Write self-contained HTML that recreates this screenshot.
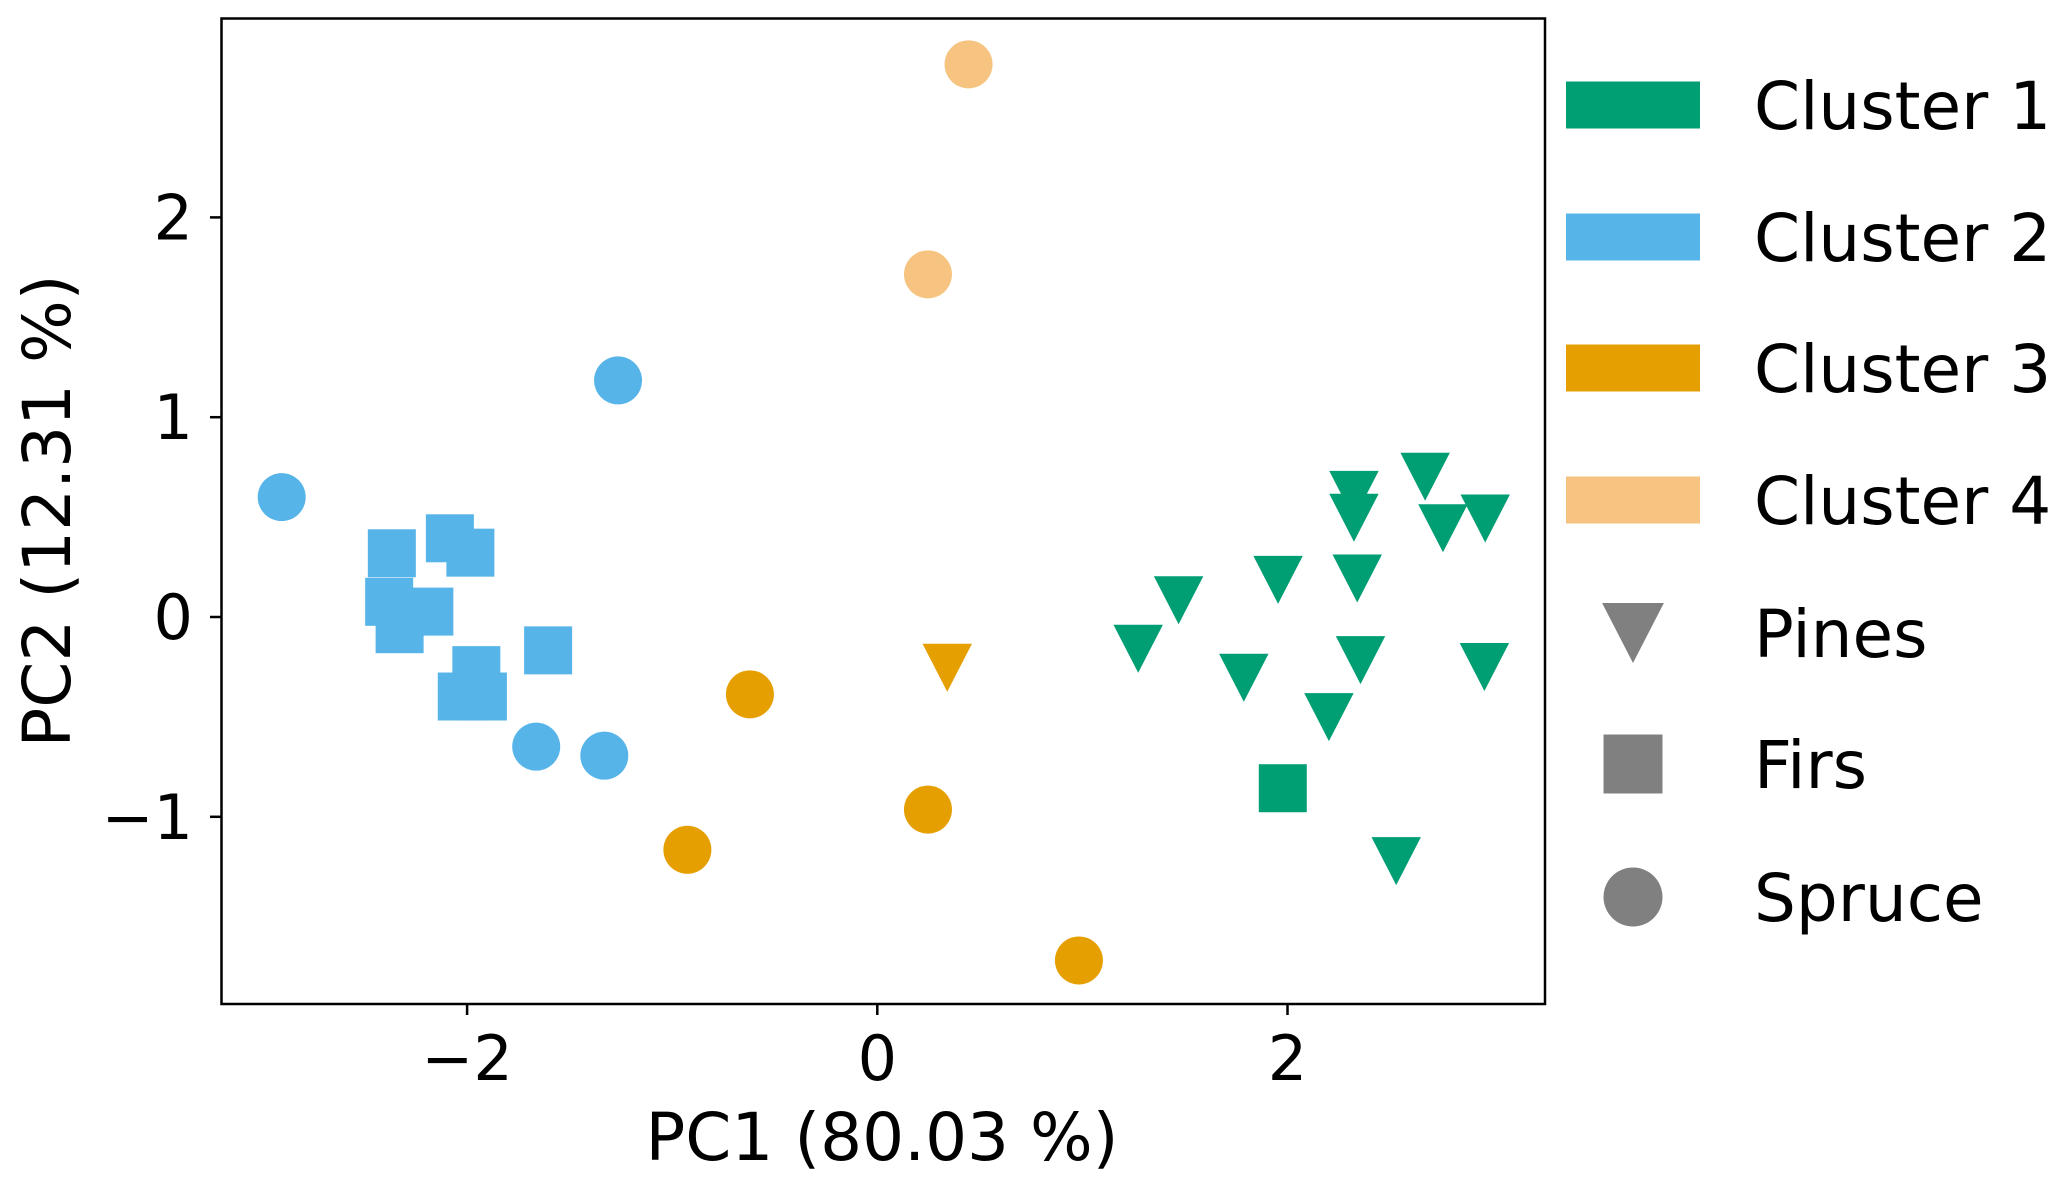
<!DOCTYPE html>
<html><head><meta charset="utf-8">
<style>
html,body{margin:0;padding:0;background:#fff;}
svg{display:block;font-family:"DejaVu Sans","Liberation Sans",sans-serif;}
</style></head>
<body>
<svg id="chart" width="2067" height="1189" viewBox="0 0 2067 1189" xmlns="http://www.w3.org/2000/svg">
  <rect x="0" y="0" width="2067" height="1189" fill="#fff"/>
  <g id="marks"></g>
  <rect x="221.5" y="18.5" width="1323.5" height="985.5" fill="none" stroke="#000" stroke-width="2.5"/>
  <g id="xaxis"></g>
  <g id="yaxis"></g>
  <text x="882" y="1160" font-size="66" text-anchor="middle" fill="#000">PC1 (80.03 %)</text>
  <text transform="translate(70,511) rotate(-90)" font-size="66" text-anchor="middle" fill="#000">PC2 (12.31 %)</text>
  <g id="legend"></g>
</svg>
<script>
const clusterColors = ["#009E73", "#56B4E9", "#E69F00", "#F6C480"];
const clusterNames = ["Cluster 1", "Cluster 2", "Cluster 3", "Cluster 4"];
const speciesNames = ["Pines", "Firs", "Spruce"];
const speciesShapes = ["tri", "sq", "circ"];
const xTicks = [-2, 0, 2];
const yTicks = [-1, 0, 1, 2];
const pointsX = [
  0.445, 0.247,
  -1.264, -2.904, -1.663, -1.331,
  -2.367, -2.084, -1.984, -2.380, -2.184, -2.329, -1.955, -2.026, -1.923, -1.605,
  -0.621, -0.926, 0.247, 0.983, 0.341,
  2.324, 2.324, 2.671, 2.758, 2.964, 1.954, 2.340, 1.469, 1.272, 1.787, 2.356, 2.960, 2.202, 2.530,
  1.977
];
const pointsY = [
  2.766, 1.715,
  1.184, 0.600, -0.649, -0.694,
  0.319, 0.394, 0.322, 0.076, 0.027, -0.061, -0.266, -0.398, -0.398, -0.167,
  -0.387, -1.165, -0.964, -1.719, -0.254,
  0.611, 0.497, 0.702, 0.444, 0.493, 0.186, 0.193, 0.084, -0.159, -0.304, -0.216, -0.250, -0.501, -1.222,
  -0.857
];
const pointsCluster = [
  3, 3,
  1, 1, 1, 1,
  1, 1, 1, 1, 1, 1, 1, 1, 1, 1,
  2, 2, 2, 2, 2,
  0, 0, 0, 0, 0, 0, 0, 0, 0, 0, 0, 0, 0, 0,
  0
];
const pointsSpecies = [
  2, 2,
  2, 2, 2, 2,
  1, 1, 1, 1, 1, 1, 1, 1, 1, 1,
  2, 2, 2, 2, 0,
  0, 0, 0, 0, 0, 0, 0, 0, 0, 0, 0, 0, 0, 0,
  1
];

const NS = "http://www.w3.org/2000/svg";
const X0 = 877.3, XS = 205.1, Y0 = 617, YS = 199.8;
function xScale(v){ return X0 + v * XS; }
function yScale(v){ return Y0 - v * YS; }

function makeMarker(shape, cx, cy, color, size){
  let el;
  const h = size / 2;
  if (shape === "circ") {
    el = document.createElementNS(NS, "circle");
    el.setAttribute("cx", cx); el.setAttribute("cy", cy); el.setAttribute("r", h);
  } else if (shape === "sq") {
    el = document.createElementNS(NS, "rect");
    el.setAttribute("x", cx - h); el.setAttribute("y", cy - h);
    el.setAttribute("width", size); el.setAttribute("height", size);
  } else {
    el = document.createElementNS(NS, "polygon");
    el.setAttribute("points", (cx - h*1.03) + "," + (cy - h) + " " + (cx + h*1.03) + "," + (cy - h) + " " + cx + "," + (cy + h));
  }
  el.setAttribute("fill", color);
  return el;
}

const marks = document.getElementById("marks");
for (let i = 0; i < pointsX.length; i++) {
  const el = makeMarker(speciesShapes[pointsSpecies[i]], xScale(pointsX[i]), yScale(pointsY[i]), clusterColors[pointsCluster[i]], 48);
  
  
  marks.appendChild(el);
}

const xaxis = document.getElementById("xaxis");
xTicks.forEach(function(t){
  const x = xScale(t);
  const ln = document.createElementNS(NS, "line");
  ln.setAttribute("x1", x); ln.setAttribute("x2", x); ln.setAttribute("y1", 1004); ln.setAttribute("y2", 1015);
  ln.setAttribute("stroke", "#000"); ln.setAttribute("stroke-width", "2.5");
  
  
  xaxis.appendChild(ln);
  const tx = document.createElementNS(NS, "text");
  tx.setAttribute("x", x); tx.setAttribute("y", 1080); tx.setAttribute("font-size", "62");
  tx.setAttribute("text-anchor", "middle");
  tx.textContent = t < 0 ? "\u2212" + Math.abs(t) : String(t);
  
  
  xaxis.appendChild(tx);
});
const yaxis = document.getElementById("yaxis");
yTicks.forEach(function(t){
  const y = yScale(t);
  const ln = document.createElementNS(NS, "line");
  ln.setAttribute("x1", 210); ln.setAttribute("x2", 221.5); ln.setAttribute("y1", y); ln.setAttribute("y2", y);
  ln.setAttribute("stroke", "#000"); ln.setAttribute("stroke-width", "2.5");
  
  
  yaxis.appendChild(ln);
  const tx = document.createElementNS(NS, "text");
  tx.setAttribute("x", 193); tx.setAttribute("y", y + 22); tx.setAttribute("font-size", "62");
  tx.setAttribute("text-anchor", "end");
  tx.textContent = t < 0 ? "\u2212" + Math.abs(t) : String(t);
  
  
  yaxis.appendChild(tx);
});

const legend = document.getElementById("legend");
const legendRowY = [105, 237, 368, 500, 633, 764, 897];
clusterNames.forEach(function(n, i){
  const r = document.createElementNS(NS, "rect");
  r.setAttribute("x", 1566); r.setAttribute("y", legendRowY[i] - 23.5);
  r.setAttribute("width", 134); r.setAttribute("height", 47);
  r.setAttribute("fill", clusterColors[i]);
  
  
  legend.appendChild(r);
  const tx = document.createElementNS(NS, "text");
  tx.setAttribute("x", 1754); tx.setAttribute("y", legendRowY[i] + 24); tx.setAttribute("font-size", "66");
  tx.textContent = n;
  
  
  legend.appendChild(tx);
});
speciesNames.forEach(function(n, i){
  const y = legendRowY[4 + i];
  const m = makeMarker(speciesShapes[i], 1633, y, "#808080", speciesShapes[i] === "tri" ? 60 : 59);
  
  
  legend.appendChild(m);
  const tx = document.createElementNS(NS, "text");
  tx.setAttribute("x", 1754); tx.setAttribute("y", y + 24); tx.setAttribute("font-size", "66");
  tx.textContent = n;
  
  
  legend.appendChild(tx);
});
</script>
</body></html>
